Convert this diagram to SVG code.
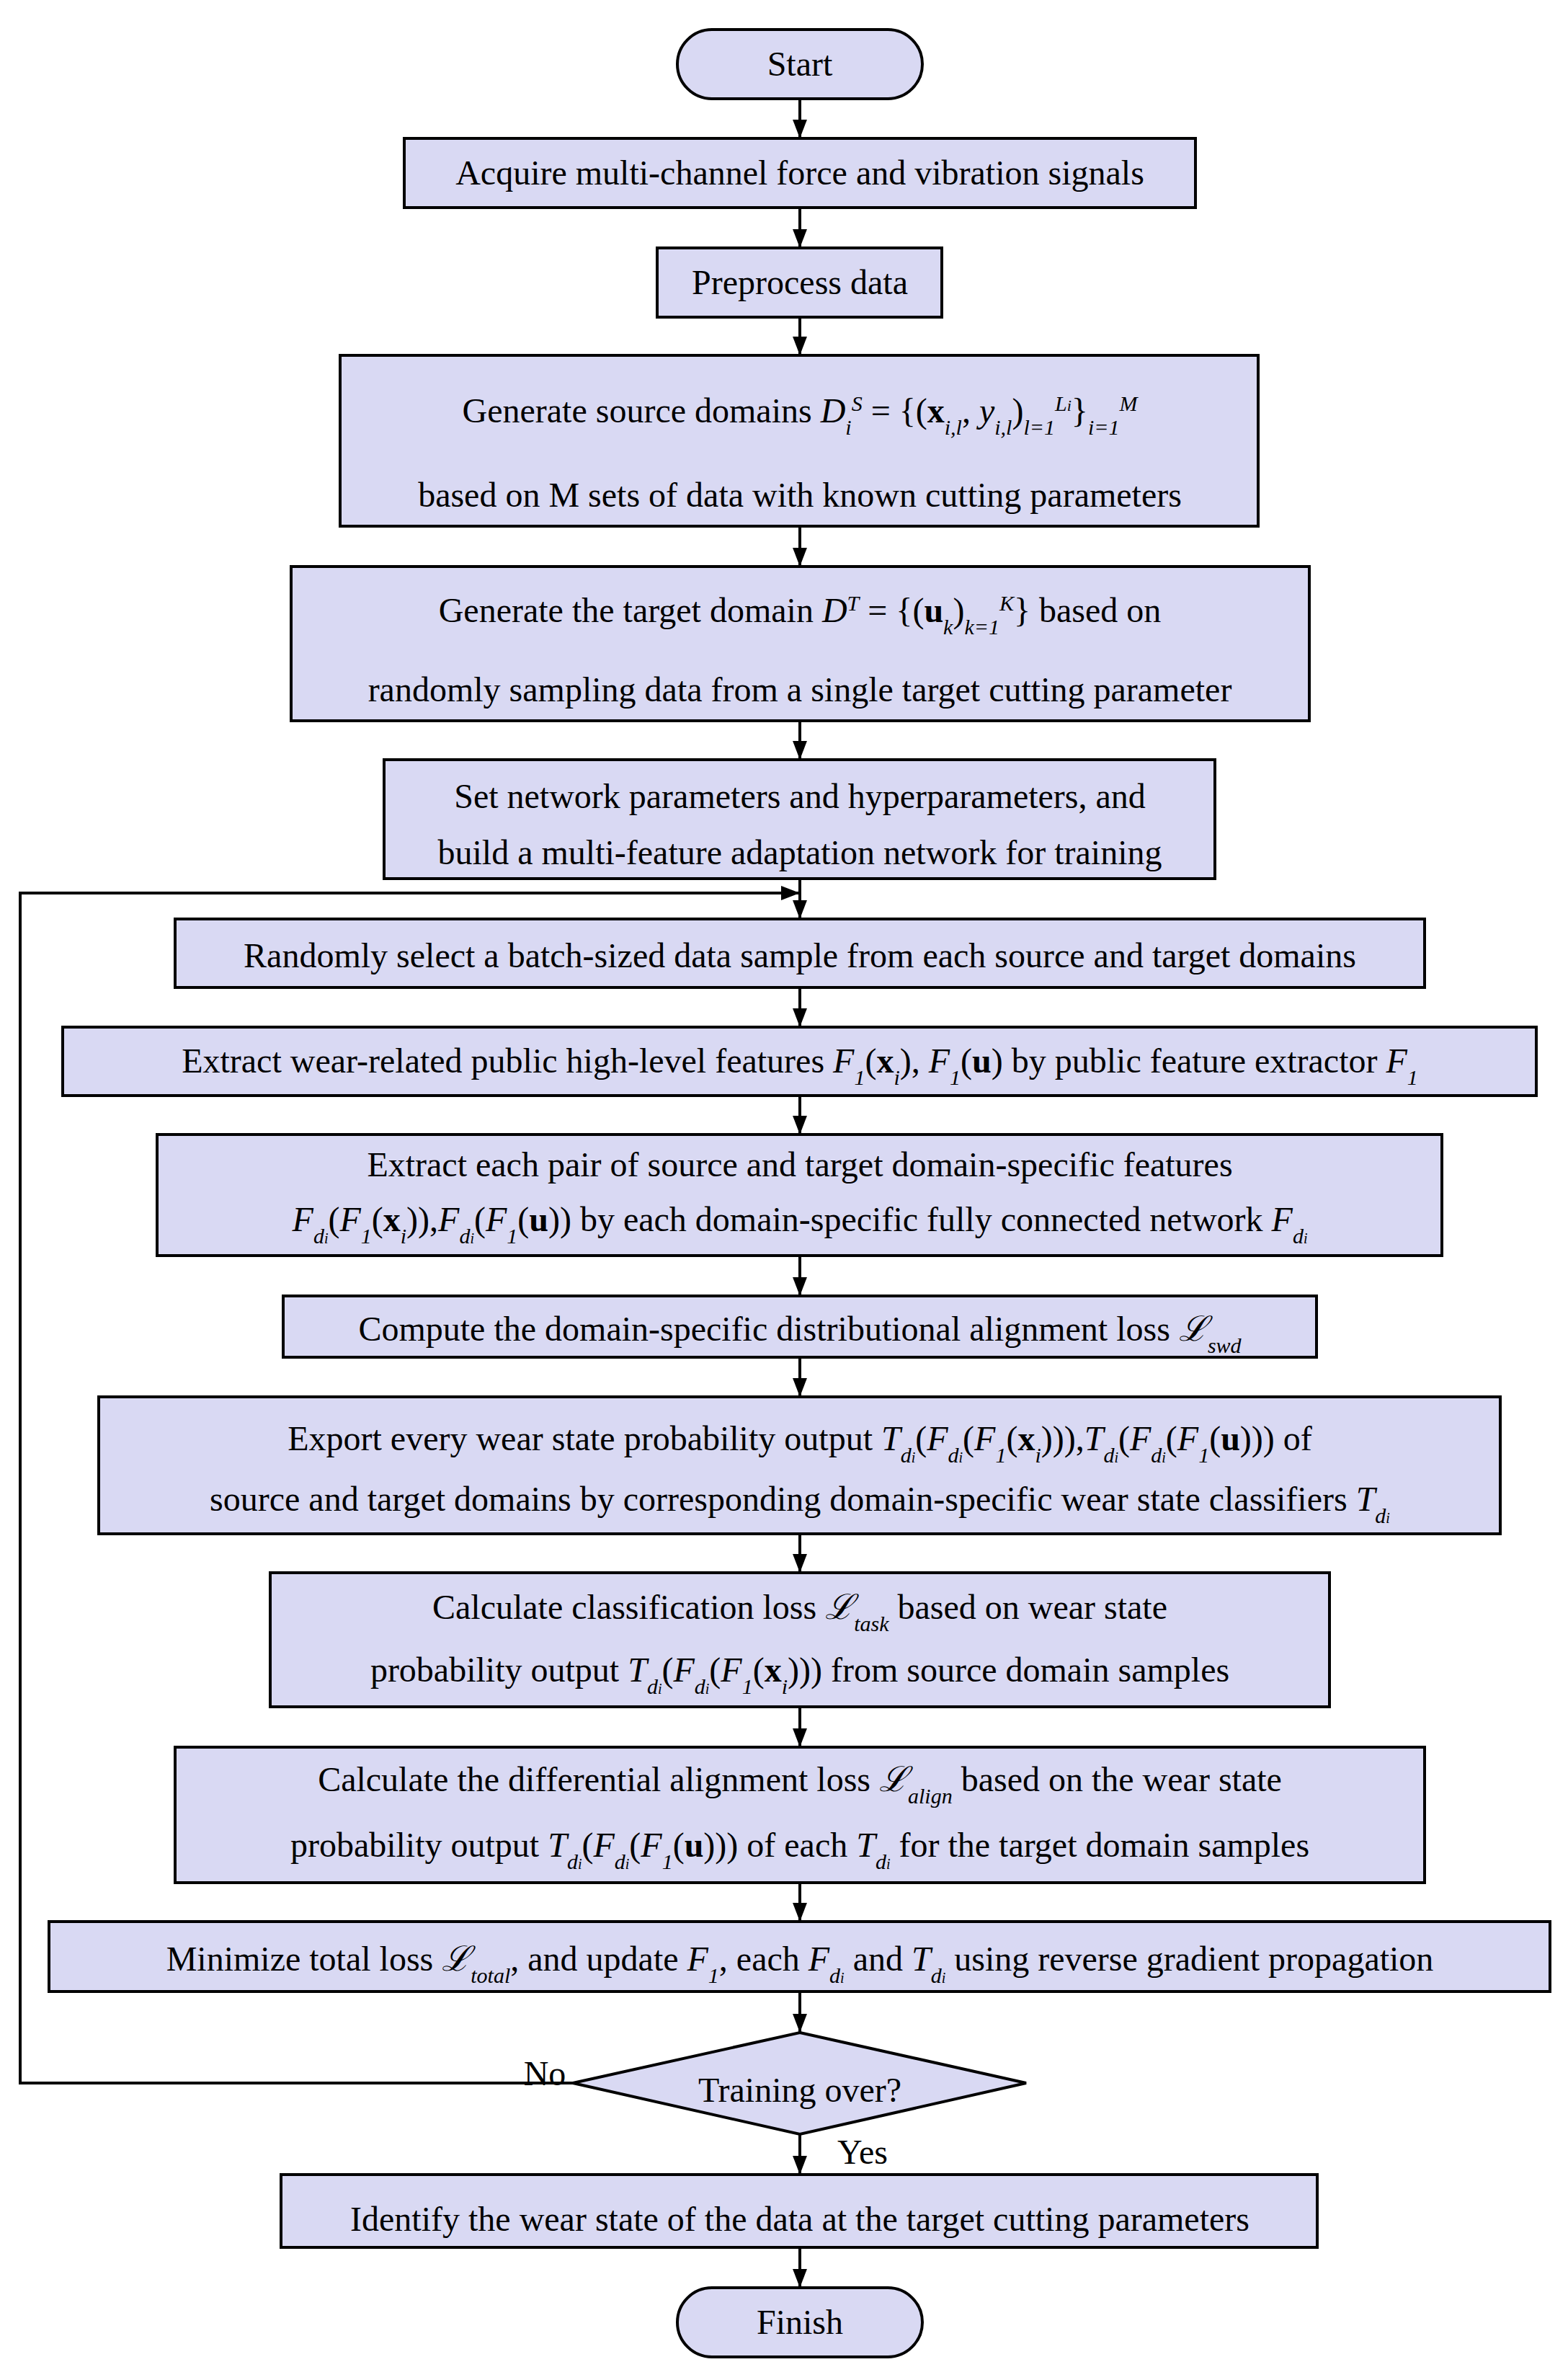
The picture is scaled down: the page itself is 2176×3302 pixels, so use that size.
<svg xmlns="http://www.w3.org/2000/svg" width="2176" height="3302" viewBox="0 0 2176 3302">
<style>
.b{fill:#D9D9F3;stroke:#000;stroke-width:4}
.t{font-family:"Liberation Serif","Times New Roman",serif;font-size:48px;fill:#000;text-anchor:middle}
.i{font-style:italic}
.s{font-size:30px;font-style:italic}
.bf{font-weight:bold}
.c{fill:none;stroke:#000;stroke-width:4}
</style>
<defs>
<marker id="a" markerUnits="userSpaceOnUse" markerWidth="26" markerHeight="36" refX="34" refY="13" orient="auto" viewBox="0 0 34 26">
<path d="M0,0 L34,13 L0,26 Z" fill="#000"/>
</marker>
</defs>
<rect width="2176" height="3302" fill="#fff"/>
<g id="connectors">
<line class="c" x1="1110" y1="137" x2="1110" y2="192" marker-end="url(#a)"/>
<line class="c" x1="1110" y1="288" x2="1110" y2="344" marker-end="url(#a)"/>
<line class="c" x1="1110" y1="440" x2="1110" y2="493" marker-end="url(#a)"/>
<line class="c" x1="1110" y1="730" x2="1110" y2="786" marker-end="url(#a)"/>
<line class="c" x1="1110" y1="1000" x2="1110" y2="1054" marker-end="url(#a)"/>
<line class="c" x1="1110" y1="1219" x2="1110" y2="1275" marker-end="url(#a)"/>
<line class="c" x1="1110" y1="1370" x2="1110" y2="1425" marker-end="url(#a)"/>
<line class="c" x1="1110" y1="1520" x2="1110" y2="1574" marker-end="url(#a)"/>
<line class="c" x1="1110" y1="1742" x2="1110" y2="1798" marker-end="url(#a)"/>
<line class="c" x1="1110" y1="1883" x2="1110" y2="1938" marker-end="url(#a)"/>
<line class="c" x1="1110" y1="2128" x2="1110" y2="2182" marker-end="url(#a)"/>
<line class="c" x1="1110" y1="2368" x2="1110" y2="2424" marker-end="url(#a)"/>
<line class="c" x1="1110" y1="2612" x2="1110" y2="2666" marker-end="url(#a)"/>
<line class="c" x1="1110" y1="2763" x2="1110" y2="2820" marker-end="url(#a)"/>
<line class="c" x1="1110" y1="2961" x2="1110" y2="3017" marker-end="url(#a)"/>
<line class="c" x1="1110" y1="3118" x2="1110" y2="3174" marker-end="url(#a)"/>
<polyline class="c" points="795,2890 28,2890 28,1239 1110,1239" marker-end="url(#a)"/>
<text class="t" x="756" y="2893">No</text>
<text class="t" x="1197" y="3002">Yes</text>
</g>
<g id="start"><rect class="b" x="940" y="41" width="340" height="96" rx="48"/><text class="t" x="1110" y="105">Start</text></g>
<g id="acquire"><rect class="b" x="561" y="192" width="1098" height="96"/><text class="t" x="1110" y="256">Acquire multi-channel force and vibration signals</text></g>
<g id="preprocess"><rect class="b" x="912" y="344" width="395" height="96"/><text class="t" x="1110" y="408">Preprocess data</text></g>
<g id="source"><rect class="b" x="472" y="493" width="1274" height="237"/>
<text class="t" x="1110" y="586">Generate source domains  <tspan class="i">D</tspan><tspan class="s" baseline-shift="sub">i</tspan><tspan class="s" baseline-shift="super">S</tspan> = {(<tspan class="bf">x</tspan><tspan class="s" baseline-shift="sub">i,l</tspan>, <tspan class="i">y</tspan><tspan class="s" baseline-shift="sub">i,l</tspan>)<tspan class="s" baseline-shift="sub">l=1</tspan><tspan class="s" baseline-shift="super">L<tspan font-size="22">i</tspan></tspan>}<tspan class="s" baseline-shift="sub">i=1</tspan><tspan class="s" baseline-shift="super">M</tspan></text>
<text class="t" x="1110" y="703">based on M sets of data with known cutting parameters</text></g>
<g id="target"><rect class="b" x="404" y="786" width="1413" height="214"/>
<text class="t" x="1110" y="863">Generate the target domain <tspan class="i">D</tspan><tspan class="s" baseline-shift="super">T</tspan> = {(<tspan class="bf">u</tspan><tspan class="s" baseline-shift="sub">k</tspan>)<tspan class="s" baseline-shift="sub">k=1</tspan><tspan class="s" baseline-shift="super">K</tspan>} based on</text>
<text class="t" x="1110" y="973">randomly sampling data from a single target cutting parameter</text></g>
<g id="setnet"><rect class="b" x="533" y="1054" width="1153" height="165"/>
<text class="t" x="1110" y="1121">Set network parameters and hyperparameters, and</text>
<text class="t" x="1110" y="1199">build a multi-feature adaptation network for training</text></g>
<g id="random"><rect class="b" x="243" y="1275" width="1734" height="95"/><text class="t" x="1110" y="1342">Randomly select a batch-sized data sample from each source and target domains</text></g>
<g id="extract1"><rect class="b" x="87" y="1425" width="2045" height="95"/>
<text class="t" x="1110" y="1488">Extract wear-related public high-level features <tspan class="i">F</tspan><tspan class="s" baseline-shift="sub" font-style="normal">1</tspan>(<tspan class="bf">x</tspan><tspan class="s" baseline-shift="sub">i</tspan>), <tspan class="i">F</tspan><tspan class="s" baseline-shift="sub" font-style="normal">1</tspan>(<tspan class="bf">u</tspan>) by public feature extractor <tspan class="i">F</tspan><tspan class="s" baseline-shift="sub" font-style="normal">1</tspan></text></g>
<g id="extract2"><rect class="b" x="218" y="1574" width="1783" height="168"/>
<text class="t" x="1110" y="1632">Extract each pair of source and target domain-specific features</text>
<text class="t" x="1110" y="1708"><tspan class="i">F</tspan><tspan class="s" baseline-shift="sub">d<tspan font-size="20">i</tspan></tspan>(<tspan class="i">F</tspan><tspan class="s" baseline-shift="sub" font-style="normal">1</tspan>(<tspan class="bf">x</tspan><tspan class="s" baseline-shift="sub">i</tspan>)),<tspan class="i">F</tspan><tspan class="s" baseline-shift="sub">d<tspan font-size="20">i</tspan></tspan>(<tspan class="i">F</tspan><tspan class="s" baseline-shift="sub" font-style="normal">1</tspan>(<tspan class="bf">u</tspan>)) by each domain-specific fully connected network <tspan class="i">F</tspan><tspan class="s" baseline-shift="sub">d<tspan font-size="20">i</tspan></tspan></text></g>
<g id="compute"><rect class="b" x="393" y="1798" width="1434" height="85"/>
<text class="t" x="1110" y="1860">Compute the domain-specific distributional alignment loss <tspan class="i">ℒ</tspan><tspan class="s" baseline-shift="sub">swd</tspan></text></g>
<g id="export"><rect class="b" x="137" y="1938" width="1945" height="190"/>
<text class="t" x="1110" y="2012">Export every wear state probability output <tspan class="i">T</tspan><tspan class="s" baseline-shift="sub">d<tspan font-size="20">i</tspan></tspan>(<tspan class="i">F</tspan><tspan class="s" baseline-shift="sub">d<tspan font-size="20">i</tspan></tspan>(<tspan class="i">F</tspan><tspan class="s" baseline-shift="sub" font-style="normal">1</tspan>(<tspan class="bf">x</tspan><tspan class="s" baseline-shift="sub">i</tspan>))),<tspan class="i">T</tspan><tspan class="s" baseline-shift="sub">d<tspan font-size="20">i</tspan></tspan>(<tspan class="i">F</tspan><tspan class="s" baseline-shift="sub">d<tspan font-size="20">i</tspan></tspan>(<tspan class="i">F</tspan><tspan class="s" baseline-shift="sub" font-style="normal">1</tspan>(<tspan class="bf">u</tspan>))) of</text>
<text class="t" x="1110" y="2096">source and target domains by corresponding domain-specific wear state classifiers <tspan class="i">T</tspan><tspan class="s" baseline-shift="sub">d<tspan font-size="20">i</tspan></tspan></text></g>
<g id="classloss"><rect class="b" x="375" y="2182" width="1470" height="186"/>
<text class="t" x="1110" y="2246">Calculate classification loss <tspan class="i">ℒ</tspan><tspan class="s" baseline-shift="sub">task</tspan>  based on wear state</text>
<text class="t" x="1110" y="2333">probability output <tspan class="i">T</tspan><tspan class="s" baseline-shift="sub">d<tspan font-size="20">i</tspan></tspan>(<tspan class="i">F</tspan><tspan class="s" baseline-shift="sub">d<tspan font-size="20">i</tspan></tspan>(<tspan class="i">F</tspan><tspan class="s" baseline-shift="sub" font-style="normal">1</tspan>(<tspan class="bf">x</tspan><tspan class="s" baseline-shift="sub">i</tspan>))) from source domain samples</text></g>
<g id="alignloss"><rect class="b" x="243" y="2424" width="1734" height="188"/>
<text class="t" x="1110" y="2485">Calculate the differential alignment loss <tspan class="i">ℒ</tspan><tspan class="s" baseline-shift="sub">align</tspan>  based on the wear state</text>
<text class="t" x="1110" y="2576">probability output <tspan class="i">T</tspan><tspan class="s" baseline-shift="sub">d<tspan font-size="20">i</tspan></tspan>(<tspan class="i">F</tspan><tspan class="s" baseline-shift="sub">d<tspan font-size="20">i</tspan></tspan>(<tspan class="i">F</tspan><tspan class="s" baseline-shift="sub" font-style="normal">1</tspan>(<tspan class="bf">u</tspan>))) of each <tspan class="i">T</tspan><tspan class="s" baseline-shift="sub">d<tspan font-size="20">i</tspan></tspan>  for the target domain samples</text></g>
<g id="minimize"><rect class="b" x="68" y="2666" width="2083" height="97"/>
<text class="t" x="1110" y="2734">Minimize total loss <tspan class="i">ℒ</tspan><tspan class="s" baseline-shift="sub">total</tspan>, and update <tspan class="i">F</tspan><tspan class="s" baseline-shift="sub" font-style="normal">1</tspan>, each <tspan class="i">F</tspan><tspan class="s" baseline-shift="sub">d<tspan font-size="20">i</tspan></tspan>  and <tspan class="i">T</tspan><tspan class="s" baseline-shift="sub">d<tspan font-size="20">i</tspan></tspan>  using reverse gradient propagation</text></g>
<g id="decision"><polygon class="b" points="1110,2820 1424,2890 1110,2961 795,2890"/><text class="t" x="1110" y="2916">Training over?</text></g>
<g id="identify"><rect class="b" x="390" y="3017" width="1438" height="101"/><text class="t" x="1110" y="3095">Identify the wear state of the data at the target cutting parameters</text></g>
<g id="finish"><rect class="b" x="940" y="3174" width="340" height="96" rx="48"/><text class="t" x="1110" y="3238">Finish</text></g>
</svg>
